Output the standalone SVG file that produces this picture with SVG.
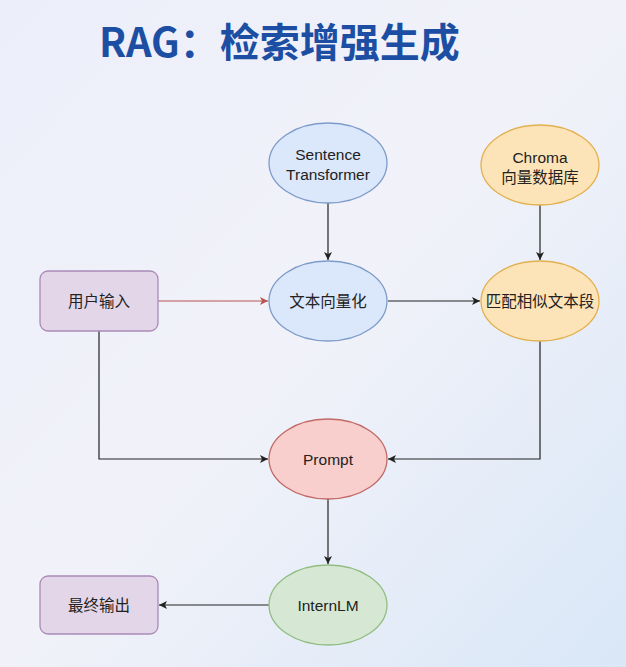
<svg xmlns="http://www.w3.org/2000/svg" width="626" height="667" viewBox="0 0 626 667">
<defs>
<linearGradient id="bg" x1="0" y1="0" x2="1" y2="1">
<stop offset="0" stop-color="#eceefa"/>
<stop offset="0.5" stop-color="#f1f2f9"/>
<stop offset="1" stop-color="#d9e7f7"/>
</linearGradient>
<marker id="ah" markerWidth="10" markerHeight="10" refX="9" refY="5" orient="auto" markerUnits="userSpaceOnUse">
<path d="M1,1 L9,5 L1,9 L3,5 Z" fill="#222"/>
</marker>
<marker id="ahr" markerWidth="10" markerHeight="10" refX="9" refY="5" orient="auto" markerUnits="userSpaceOnUse">
<path d="M1,1 L9,5 L1,9 L3,5 Z" fill="#b85450"/>
</marker>
</defs>
<style>
.t{font-family:"Liberation Sans","Noto Sans CJK SC",sans-serif;font-size:15.5px;fill:#222;text-anchor:middle;dominant-baseline:central}
.title{font-family:"Noto Sans CJK SC","Liberation Sans",sans-serif;font-size:40px;font-weight:700;fill:#1c4fa3}
.c{fill:none;stroke:#222;stroke-width:1.2}
.blue{fill:#dbe7fb;stroke:#7e9cc9;stroke-width:1.3}
.orange{fill:#fde4b8;stroke:#e2b04e;stroke-width:1.3}
.purple{fill:#e3d6e9;stroke:#a98ab7;stroke-width:1.3}
.red{fill:#f8cfcd;stroke:#c06a66;stroke-width:1.3}
.green{fill:#d6e8d4;stroke:#92bd82;stroke-width:1.3}
</style>
<rect width="626" height="667" fill="url(#bg)"/>
<text class="title" x="99" y="57">RAG：检索增强生成</text>
<g id="connectors">
<path class="c" d="M328,203 V260" marker-end="url(#ah)"/>
<path class="c" d="M540,205 V260" marker-end="url(#ah)"/>
<path d="M158,301 H268" fill="none" stroke="#b85450" stroke-width="1.2" marker-end="url(#ahr)"/>
<path class="c" d="M388,301 H480" marker-end="url(#ah)"/>
<path class="c" d="M99,331 V459 H268" marker-end="url(#ah)"/>
<path class="c" d="M540,341 V459 H388" marker-end="url(#ah)"/>
<path class="c" d="M328,498 V564" marker-end="url(#ah)"/>
<path class="c" d="M269,605 H159" marker-end="url(#ah)"/>
</g>
<g id="sentence-transformer">
<ellipse class="blue" cx="328" cy="163" rx="59" ry="40"/>
<text class="t" x="328" y="154">Sentence</text>
<text class="t" x="328" y="174">Transformer</text>
</g>
<g id="chroma">
<ellipse class="orange" cx="540" cy="165" rx="59" ry="40"/>
<text class="t" x="540" y="157">Chroma</text>
<text class="t" x="540" y="177">向量数据库</text>
</g>
<g id="user-input">
<rect class="purple" x="40" y="271" width="118" height="60" rx="8"/>
<text class="t" x="99" y="301">用户输入</text>
</g>
<g id="vectorize">
<ellipse class="blue" cx="328" cy="301" rx="59" ry="40"/>
<text class="t" x="328" y="301">文本向量化</text>
</g>
<g id="match">
<ellipse class="orange" cx="540" cy="301" rx="59" ry="40"/>
<text class="t" x="540" y="301">匹配相似文本段</text>
</g>
<g id="prompt">
<ellipse class="red" cx="328" cy="459" rx="59" ry="40"/>
<text class="t" x="328" y="459">Prompt</text>
</g>
<g id="internlm">
<ellipse class="green" cx="328" cy="605" rx="59" ry="40"/>
<text class="t" x="328" y="605">InternLM</text>
</g>
<g id="final-output">
<rect class="purple" x="40" y="576" width="118" height="58" rx="8"/>
<text class="t" x="99" y="605">最终输出</text>
</g>
</svg>
